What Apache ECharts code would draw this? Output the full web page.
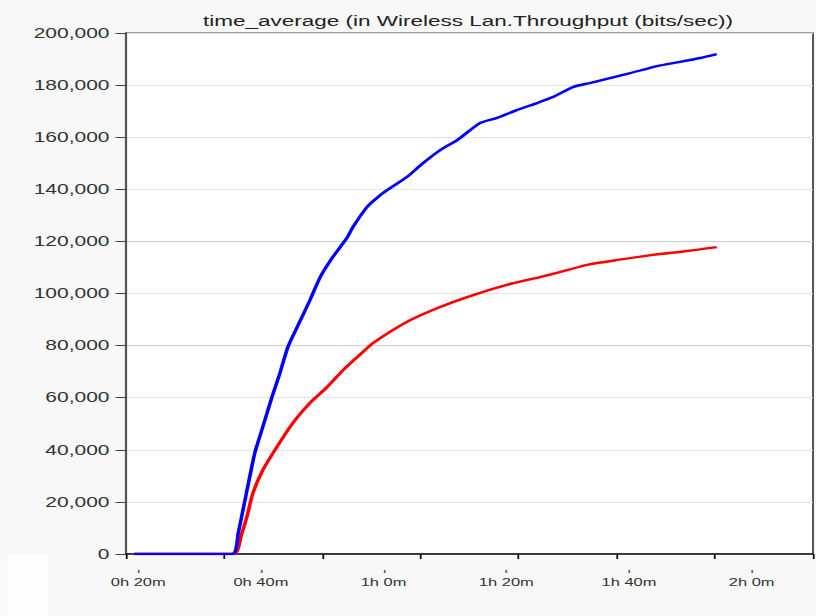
<!DOCTYPE html>
<html>
<head>
<meta charset="utf-8">
<script src="https://cdn.jsdelivr.net/npm/echarts@6/dist/echarts.min.js"></script>
<style>
  html, body { margin: 0; padding: 0; background: #f8f8f8; overflow: hidden; }
  /* the chart is laid out narrow and widened horizontally, giving the wide lettering of the plot */
  #chart { width: 544px; height: 616px; transform: scaleX(1.5); transform-origin: 0 0; }
</style>
</head>
<body>
<div id="chart"></div>
<script>
// Simulation time in minutes and throughput in bits/sec
const blueTime = [19.3, 35.3, 36.3, 37.4, 39.0, 40.3, 41.8, 43.1, 44.4, 45.9, 48.0, 49.6, 51.6, 54.0, 55.0,
  57.3, 59.9, 63.8, 66.4, 69.2, 72.0, 75.7, 78.5, 81.7, 85.0, 87.6, 90.9, 93.6, 96.9, 100.2, 104.6, 108.3, 111.6, 114.3];
const blueRate = [0, 0, 8100, 20700, 38800, 48800, 60300, 69500, 79500, 87100, 97500, 106000, 113600, 121300, 125500,
  133200, 138600, 144700, 150000, 155000, 158900, 165400, 167400, 170400, 173100, 175400, 179300, 180800, 182700, 184600, 187300, 188900, 190400, 191900];

const redTime = [19.3, 35.4, 36.9, 37.7, 38.7, 40.3, 42.6, 45.2, 48.0, 50.8, 53.4, 56.1, 58.3, 63.8, 69.2,
  74.6, 80.1, 85.5, 87.6, 93.2, 98.5, 103.9, 109.5, 114.3];
const redRate = [0, 0, 8100, 14200, 23400, 32200, 41100, 50300, 58000, 64100, 70600, 76400, 81000, 89100, 94800,
  99400, 103300, 106300, 107500, 111000, 113000, 114800, 116300, 117800];

// Axis marks
const tickMinutes = [18, 34, 50, 66, 82, 98, 114, 130];
const labelMinutes = [20, 40, 60, 80, 100, 120];
const yTicks = [0, 20000, 40000, 60000, 80000, 100000, 120000, 140000, 160000, 180000, 200000];

const chartTitle = 'time_average (in Wireless Lan.Throughput (bits/sec))';

const pairs = (xs, ys) => xs.map((x, i) => [x, ys[i]]);
const fmtTime = m => Math.floor(m / 60) + 'h ' + (m % 60) + 'm';

const chart = echarts.init(document.getElementById('chart'), null, { renderer: 'svg' });

chart.setOption({
  animation: false,
  backgroundColor: '#f8f8f8',
  title: {
    text: chartTitle,
    left: 307,
    top: 8,
    textAlign: 'center',
    textStyle: { fontFamily: '"Liberation Sans", Arial, sans-serif', fontSize: 15, fontWeight: 'normal', color: '#222' }
  },
  graphic: [
    { type: 'rect', shape: { x: 5, y: 554, width: 27, height: 62 }, style: { fill: '#fdfdfd' }, silent: true }
  ],
  grid: {
    left: 84, right: 2, top: 33, bottom: 62,
    show: true, backgroundColor: '#ffffff', borderColor: '#444', borderWidth: 1.2
  },
  xAxis: [
    {
      type: 'value', min: tickMinutes[0], max: tickMinutes[tickMinutes.length - 1], position: 'bottom',
      axisLine: { show: true, onZero: false, lineStyle: { color: '#111', width: 1.5 } },
      axisTick: { show: true, customValues: tickMinutes, length: 5, lineStyle: { color: '#111', width: 1.2 } },
      axisLabel: {
        customValues: labelMinutes, formatter: fmtTime, margin: 23,
        fontFamily: '"Liberation Sans", Arial, sans-serif',
        fontSize: 11, color: '#333'
      },
      splitLine: { show: false }
    },
    {
      type: 'value', min: tickMinutes[0], max: tickMinutes[tickMinutes.length - 1], position: 'bottom', offset: 16,
      axisLine: { show: true, onZero: false, lineStyle: { color: '#000', opacity: 0 } },
      axisTick: { show: true, customValues: labelMinutes, length: 3, lineStyle: { color: '#666', width: 1.2 } },
      axisLabel: { show: false },
      splitLine: { show: false }
    }
  ],
  yAxis: {
    type: 'value', min: yTicks[0], max: yTicks[yTicks.length - 1], interval: yTicks[1] - yTicks[0],
    axisLine: { show: true, lineStyle: { color: '#555', width: 1.5 } },
    axisTick: { show: true, length: 7, lineStyle: { color: '#444', width: 1 } },
    axisLabel: {
      margin: 11, fontFamily: '"Liberation Sans", Arial, sans-serif', fontSize: 14, color: '#333',
      formatter: v => v.toLocaleString('en-US')
    },
    splitLine: {
      show: true,
      lineStyle: { width: 1, color: ['#e4e4e4', '#e4e4e4', '#e4e4e4', '#e4e4e4', '#cfcfcf', '#e4e4e4', '#cfcfcf', '#e4e4e4', '#e4e4e4', '#e4e4e4', '#e4e4e4'] }
    }
  },
  series: [
    {
      type: 'line', xAxisIndex: 0, data: pairs(redTime, redRate), showSymbol: false, smooth: 0.25,
      lineStyle: { color: '#ff0000', width: 2.4 }, itemStyle: { color: '#ff0000' }
    },
    {
      type: 'line', xAxisIndex: 0, data: pairs(blueTime, blueRate), showSymbol: false, smooth: 0.2,
      lineStyle: { color: '#0000ff', width: 2.4 }, itemStyle: { color: '#0000ff' }
    }
  ]
});
</script>
</body>
</html>
